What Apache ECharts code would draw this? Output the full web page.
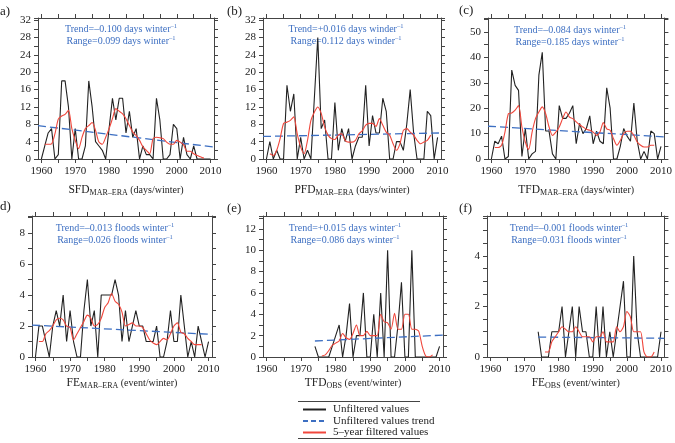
<!DOCTYPE html>
<html>
<head>
<meta charset="utf-8">
<script src="https://cdn.jsdelivr.net/npm/echarts@6/dist/echarts.min.js"></script>
<style>
  html, body { margin: 0; background: #fff; }
  #main { width: 675px; height: 443px; }
</style>
</head>
<body>
<div id="main"></div>
<script>
// winters, one value per year
var years = [1960, 1961, 1962, 1963, 1964, 1965, 1966, 1967, 1968, 1969,
             1970, 1971, 1972, 1973, 1974, 1975, 1976, 1977, 1978, 1979,
             1980, 1981, 1982, 1983, 1984, 1985, 1986, 1987, 1988, 1989,
             1990, 1991, 1992, 1993, 1994, 1995, 1996, 1997, 1998, 1999,
             2000, 2001, 2002, 2003, 2004, 2005, 2006, 2007, 2008, 2009,
             2010];
var xLabels = [1960, 1970, 1980, 1990, 2000, 2010];
var xTicks = [1960, 1965, 1970, 1975, 1980, 1985, 1990, 1995, 2000, 2005, 2010];

// (a) SFD MAR-ERA
var sfd = [0, 3, 6, 7, 0, 1, 18, 18, 12, 0,
           7, 0, 0, 3, 18, 12, 4, 3, 2, 0,
           7, 14, 9, 14, 14, 6, 11, 5, 7, 0,
           3, 1, 1, 0, 14, 9, 0, 0, 1, 8,
           7, 0, 5, 1, 0, 3, 0, 0, 0, 0,
           0];
var sfdSmooth = [null, 3.4, 3.4, 3.5, 5.8, 9.2, 9.9, 10.3, 11.2, 7,
                 4.3, 2.4, 5, 7, 7.7, 8.4, 6.6, 3.9, 3.4, 5,
                 7, 9.3, 11.6, 11, 10.4, 9.3, 7.7, 6.2, 5.4, 4.3,
                 2.8, 2, 1.2, 4.7, 5, 4.9, 4.7, 3.9, 3.4, 3.4,
                 4.3, 3.9, 3.3, 1.8, 1.8, 1.2, 0.8, 0.5, 0.2, null,
                 null];
var sfdTrend = [7.7, 2.75];

// (b) PFD MAR-ERA
var pfd = [0, 4, 0, 2, 0, 0, 17, 11, 15, 0,
           5, 0, 2, 0, 14, 28, 7, 9, 0, 0,
           13, 2, 7, 4, 7, 0, 3, 5, 5, 17,
           3, 10, 6, 6, 14, 11, 0, 0, 4, 4,
           2, 8, 16, 6, 0, 0, 0, 11, 10, 0,
           5];
var pfdSmooth = [null, 1.2, 0.8, 2, 4.7, 8.2, 8.5, 8.9, 9.7, 5.8,
                 2.8, 1.2, 4.3, 8.9, 10.8, 12, 10.5, 7.4, 5.5, 4.7,
                 4.5, 5.5, 5.8, 4.3, 3.9, 3.9, 4.3, 5.8, 6.5, 7.8,
                 8.2, 8.2, 7.5, 9.3, 7.8, 6.2, 5.5, 3.5, 2, 3.5,
                 6.6, 7, 6.2, 5.5, 4.3, 3.5, 3.9, 4.3, 5.5, null,
                 null];
var pfdTrend = [5.2, 6.0];

// (c) TFD MAR-ERA
var tfd = [0, 7, 6, 9, 0, 1, 35, 29, 27, 1,
           12, 0, 2, 3, 33, 42, 11, 11, 2, 0,
           21, 16, 16, 18, 21, 6, 14, 10, 12, 17,
           6, 11, 7, 6, 28, 20, 0, 0, 5, 12,
           9, 7, 22, 7, 0, 3, 0, 11, 10, 0,
           5];
var tfdSmooth = [null, 4.5, 4.5, 5.4, 10.6, 17.8, 18.1, 19.2, 21, 12.6,
                 6.7, 3.8, 10.6, 15.9, 18.5, 20.5, 17.8, 12.6, 9.3, 10.6,
                 12.6, 15.9, 18.5, 16.5, 15.9, 14.6, 13.5, 12.6, 11.7, 11.3,
                 10.6, 9.3, 10.6, 14.3, 11.9, 11.3, 8, 5.4, 7.3, 10,
                 10.9, 10.9, 9.3, 6.7, 5.4, 4.7, 4.7, 5.4, 5.4, null,
                 null];
var tfdTrend = [12.9, 8.7];

// (d) FE MAR-ERA
var fe = [0, 2, 2, 1, 0, 2, 3, 2, 4, 1,
          3, 1, 0, 0, 3, 5, 2, 3, 0, 4,
          4, 4, 4, 5, 4, 1, 3, 1, 2, 3,
          2, 2, 1, 1, 1, 2, 0, 0, 1, 3,
          1, 1, 4, 2, 0, 1, 0, 2, 1, 0,
          1];
var feSmooth = [null, 1, 1, 1.5, 1.7, 2, 2.4, 2.5, 2.4, 2,
                1.9, 1.1, 1.5, 1.9, 2.3, 2.7, 2.5, 2, 2.1, 2.5,
                3.2, 3.5, 4.1, 3.6, 3.4, 2.9, 2, 2.1, 2.2, 2,
                2, 1.9, 1.5, 1.1, 0.9, 0.8, 1, 1.2, 1.1, 1.5,
                2, 2.2, 1.6, 1.5, 1.2, 1, 0.8, 0.8, 0.8, null,
                null];
var feTrend = [2.06, 1.46];

// (e) TFD observed
var tfdObs = [null, null, null, null, null, null, null, null, null, null,
              null, null, null, null, 1, 0, 0, 0, 0, 1,
              2, 3, 0, 2, 5, 0, 2, 2, 6, 0,
              0, 4, 0, 6, 0, 10, 0, 0, 3, 7,
              0, 0, 10, 0, 0, 0, 0, 0, 0, 0,
              1];
var tfdObsSmooth = [null, null, null, null, null, null, null, null, null, null,
                    null, null, null, null, null, null, 0.1, 0.2, 0.6, 1.1,
                    1.3, 1.5, 2.2, 1.8, 1.65, 2.2, 3, 2, 2, 2.4,
                    2, 2, 2, 4, 3.3, 3.2, 2.6, 4.1, 2.6, 2.6,
                    4, 4, 2.6, 2.6, 2.4, 1, 0.1, 0, 0.2, null,
                    null];
var tfdObsTrend = [1.5, 2.05];

// (f) FE observed
var feObs = [null, null, null, null, null, null, null, null, null, null,
             null, null, null, null, 1, 0, 0, 0, 1, 1,
             1, 2, 0, 1, 2, 0, 2, 1, 1, 0,
             0, 2, 0, 2, 0, 1, 0, 1, 2, 3,
             0, 0, 4, 1, 0, 0, 0, 0, 0, 0,
             1];
var feObsSmooth = [null, null, null, null, null, null, null, null, null, null,
                   null, null, null, null, null, null, 0.2, 0.2, 0.6, 0.8,
                   1, 1.2, 1.1, 1, 1, 1.2, 1, 0.8, 0.8, 0.8,
                   0.6, 0.8, 0.8, 1, 0.6, 0.6, 0.6, 1.2, 1, 1.2,
                   1.8, 1.6, 1, 1, 1, 0.2, 0, 0, 0.2, null,
                   null];
var feObsTrend = [0.79, 0.74];

var trendYearsFull = [1959, 2011];
var trendYearsObs = [1974, 2011];

var yLabels32 = [0, 4, 8, 12, 16, 20, 24, 28, 32];
var yLabels50 = [0, 10, 20, 30, 40, 50];
var yLabels8 = [0, 2, 4, 6, 8];
var yLabels12 = [0, 2, 4, 6, 8, 10, 12];
var yLabels4 = [0, 2, 4];

var SERIF = 'Liberation Serif';
var BLUE = '#3d6fc2';
var RED = '#f0473c';
var AXIS = '#444';

var panels = [
  { box: [38, 18, 176, 141], yMax: 32.5, yStep: 2, yLabels: yLabels32, raw: sfd, smooth: sfdSmooth,
    tx: trendYearsFull, trend: sfdTrend, tag: 'a)', tagX: 0, tagY: 12, nameGap: 24,
    name: ['SFD', 'MAR–ERA', ' (days/winter)'], cx: 121, cy: 35,
    stats: ['Trend=–0.100 days winter', 'Range=0.099 days winter'] },
  { box: [263, 18, 178, 141], yMax: 32.5, yStep: 2, yLabels: yLabels32, raw: pfd, smooth: pfdSmooth,
    tx: trendYearsFull, trend: pfdTrend, tag: '(b)', tagX: 227, tagY: 12, nameGap: 24,
    name: ['PFD', 'MAR–ERA', ' (days/winter)'], cx: 346, cy: 35,
    stats: ['Trend=+0.016 days winder', 'Range=0.112 days winder'] },
  { box: [488, 18, 178, 141], yMax: 55.5, yStep: 5, yLabels: yLabels50, raw: tfd, smooth: tfdSmooth,
    tx: trendYearsFull, trend: tfdTrend, tag: '(c)', tagX: 459, tagY: 11, nameGap: 24,
    name: ['TFD', 'MAR–ERA', ' (days/winter)'], cx: 570, cy: 36,
    stats: ['Trend=–0.084 days winter', 'Range=0.185 days winter'] },
  { box: [32, 216, 180, 141], yMax: 9.1, yStep: 1, yLabels: yLabels8, raw: fe, smooth: feSmooth,
    tx: trendYearsFull, trend: feTrend, tag: 'd)', tagX: 0, tagY: 207, nameGap: 19,
    name: ['FE', 'MAR–ERA', ' (event/winter)'], cx: 115, cy: 234,
    stats: ['Trend=–0.013 floods winter', 'Range=0.026 floods winter'] },
  { box: [263, 216, 180, 141], yMax: 13.2, yStep: 1, yLabels: yLabels12, raw: tfdObs, smooth: tfdObsSmooth,
    tx: trendYearsObs, trend: tfdObsTrend, tag: '(e)', tagX: 227, tagY: 209, nameGap: 19,
    name: ['TFD', 'OBS', ' (event/winter)'], cx: 345, cy: 234,
    stats: ['Trend=+0.015 days winter', 'Range=0.086 days winter'] },
  { box: [487, 216, 180, 141], yMax: 5.58, yStep: 0.5, yLabels: yLabels4, raw: feObs, smooth: feObsSmooth,
    tx: trendYearsObs, trend: feObsTrend, tag: '(f)', tagX: 459, tagY: 209, nameGap: 19,
    name: ['FE', 'OBS', ' (event/winter)'], cx: 569, cy: 234,
    stats: ['Trend=–0.001 floods winter', 'Range=0.031 floods winter'] }
];

function pairs(xs, vals) {
  var out = [];
  for (var i = 0; i < xs.length; i++) {
    if (vals[i] != null) out.push([xs[i], vals[i]]);
  }
  return out;
}

var grids = [], xAxes = [], yAxes = [], series = [], graphics = [];
var tickStyle = { lineStyle: { color: AXIS, width: 1 }, length: 4 };
var lineStyle = { show: true, onZero: false, lineStyle: { color: AXIS, width: 1 } };
var plain = function (v) { return String(v); };

panels.forEach(function (p, i) {
  grids.push({ left: p.box[0], top: p.box[1], width: p.box[2], height: p.box[3] });

  xAxes.push({
    gridIndex: i, type: 'value', min: 1959, max: 2011, position: 'bottom',
    axisLine: lineStyle,
    axisTick: Object.assign({ customValues: xTicks }, tickStyle),
    axisLabel: { customValues: xLabels, formatter: plain, fontFamily: SERIF, fontSize: 11, color: '#222', margin: 7 },
    splitLine: { show: false },
    name: '{n|' + p.name[0] + '}{s|' + p.name[1] + '}{u|' + p.name[2] + '}',
    nameLocation: 'middle', nameGap: p.nameGap,
    nameTextStyle: {
      rich: {
        n: { fontFamily: SERIF, fontSize: 11.5, color: '#222', lineHeight: 14 },
        s: { fontFamily: SERIF, fontSize: 8, color: '#222', lineHeight: 9, verticalAlign: 'bottom' },
        u: { fontFamily: SERIF, fontSize: 10, color: '#222', lineHeight: 14 }
      }
    }
  });
  xAxes.push({
    gridIndex: i, type: 'value', min: 1959, max: 2011, position: 'top',
    axisLine: lineStyle,
    axisTick: Object.assign({ customValues: xTicks }, tickStyle),
    axisLabel: { show: false }, splitLine: { show: false }
  });

  yAxes.push({
    gridIndex: i, type: 'value', min: 0, max: p.yMax, interval: p.yStep, position: 'left',
    axisLine: lineStyle, axisTick: tickStyle,
    axisLabel: { customValues: p.yLabels, formatter: plain, fontFamily: SERIF, fontSize: 11, color: '#222', margin: 7 },
    splitLine: { show: false }
  });
  yAxes.push({
    gridIndex: i, type: 'value', min: 0, max: p.yMax, interval: p.yStep, position: 'right',
    axisLine: lineStyle, axisTick: tickStyle,
    axisLabel: { show: false }, splitLine: { show: false }
  });

  series.push({
    name: 'Unfiltered values', type: 'line', xAxisIndex: 2 * i, yAxisIndex: 2 * i,
    data: pairs(years, p.raw), symbol: 'none', z: 2,
    lineStyle: { color: '#222', width: 1.1 }, itemStyle: { color: '#222' }
  });
  series.push({
    name: 'Unfiltered values trend', type: 'line', xAxisIndex: 2 * i, yAxisIndex: 2 * i,
    data: pairs(p.tx, p.trend), symbol: 'none', z: 3,
    lineStyle: { color: BLUE, width: 1.3, type: [8, 4] }, itemStyle: { color: BLUE }
  });
  series.push({
    name: '5–year filtered values', type: 'line', xAxisIndex: 2 * i, yAxisIndex: 2 * i,
    data: pairs(years, p.smooth), symbol: 'none', smooth: 0.25, z: 4,
    lineStyle: { color: RED, width: 1.1 }, itemStyle: { color: RED }
  });

  graphics.push({
    type: 'text', left: p.tagX, top: p.tagY - 7,
    style: { text: p.tag, font: '13px "Liberation Serif"', fill: '#222' }
  });
  graphics.push({
    type: 'text', x: p.cx, y: p.cy,
    style: {
      text: '{t|' + p.stats[0] + '}{s|–1}\n{t|' + p.stats[1] + '}{s|–1}',
      align: 'center', verticalAlign: 'middle',
      rich: {
        t: { fontFamily: SERIF, fontSize: 10, fill: BLUE, lineHeight: 12 },
        s: { fontFamily: SERIF, fontSize: 6.5, fill: BLUE, lineHeight: 8, verticalAlign: 'top' }
      }
    }
  });
});

// legend frame
graphics.push({ type: 'line', shape: { x1: 298, y1: 401.5, x2: 420, y2: 401.5 }, style: { stroke: AXIS, lineWidth: 1 } });
graphics.push({ type: 'line', shape: { x1: 298, y1: 438.5, x2: 420, y2: 438.5 }, style: { stroke: AXIS, lineWidth: 1 } });

var chart = echarts.init(document.getElementById('main'), null, { renderer: 'canvas' });
chart.setOption({
  animation: false,
  backgroundColor: '#fff',
  grid: grids,
  xAxis: xAxes,
  yAxis: yAxes,
  legend: {
    data: [
      { name: 'Unfiltered values' },
      { name: 'Unfiltered values trend', lineStyle: { type: [5, 3] } },
      { name: '5–year filtered values' }
    ],
    orient: 'vertical', left: 302, top: 404, padding: 0,
    itemWidth: 23, itemHeight: 10, itemGap: 0.5,
    selectedMode: false,
    itemStyle: { opacity: 0 },
    textStyle: { fontFamily: SERIF, fontSize: 11, color: '#222', lineHeight: 10, padding: [0, 0, 0, 2] }
  },
  graphic: graphics,
  series: series
});
</script>
</body>
</html>
